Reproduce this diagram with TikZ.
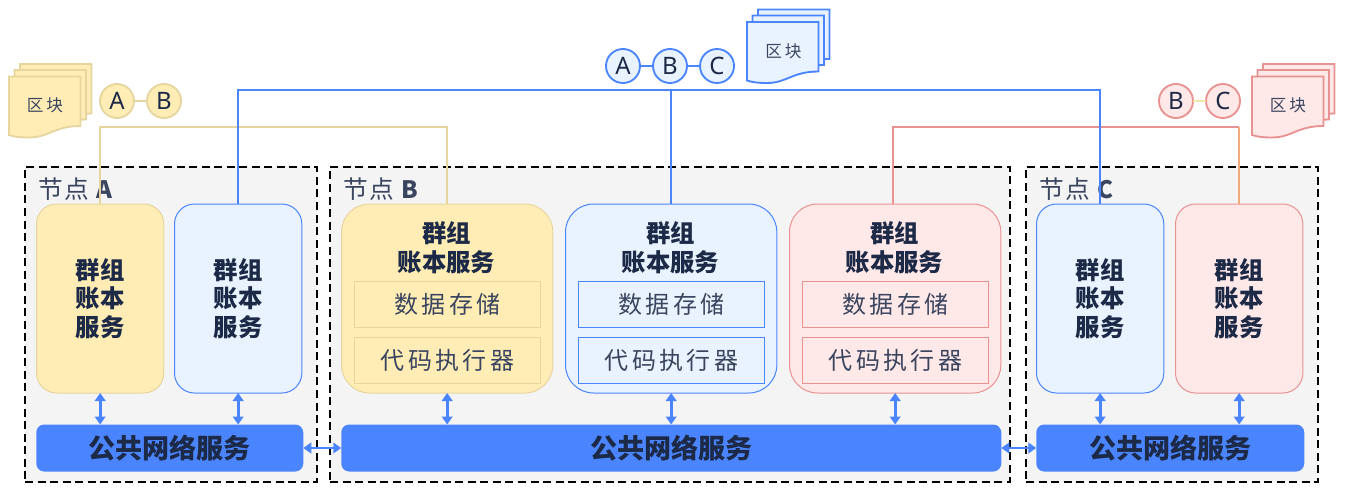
\documentclass[tikz,border=0pt]{standalone}
\usepackage{fontspec}
\setmainfont{Noto Sans}
\newfontfamily\cjk{Noto Sans CJK SC}
\usetikzlibrary{arrows.meta}
\definecolor{ink}{HTML}{1D2A47}
\definecolor{inksoft}{HTML}{3A4560}
\definecolor{bluel}{HTML}{4A85FF}
\definecolor{bluef}{HTML}{E8F3FF}
\definecolor{yell}{HTML}{E6D59E}
\definecolor{yelf}{HTML}{FFEDB5}
\definecolor{redl}{HTML}{E89292}
\definecolor{redf}{HTML}{FFE8E8}
\definecolor{oran}{HTML}{F2AB78}
\definecolor{frame}{HTML}{F4F4F4}
\tikzset{
  x=0.75pt,y=-0.75pt,
  every node/.style={inner sep=0pt,outer sep=0pt,text=ink,font=\cjk},
  framebox/.style={draw=black,fill=frame,line width=1.6pt,dash pattern=on 6pt off 3.4pt,minimum height=236.25pt,anchor=north west},
  framelabel/.style={anchor=west,font=\cjk\fontsize{18.5}{20}\selectfont,text=inksoft},
  svcbold/.style={font=\cjk\bfseries\fontsize{18.3}{21.5}\selectfont,align=center,text=ink},
  narrow/.style={minimum width=95.5pt,minimum height=141.75pt,anchor=north west,rounded corners=15pt,line width=0.75pt,svcbold},
  wide/.style={minimum width=158.5pt,minimum height=141.75pt,anchor=north west,rounded corners=21pt,line width=0.75pt},
  yelbox/.style={draw=yell,fill=yelf},
  blubox/.style={draw=bluel,fill=bluef},
  redbox/.style={draw=redl,fill=redf},
  inner/.style={minimum width=139.5pt,minimum height=34.5pt,anchor=north west,line width=0.75pt,text=inksoft,font=\cjk\fontsize{18}{21}\selectfont},
  busbox/.style={fill=bluel,minimum height=35.25pt,anchor=north west,rounded corners=6pt,font=\cjk\bfseries\fontsize{20.3}{24}\selectfont,text=ink},
  chain/.style={circle,minimum size=25.5pt,line width=1.4pt,font=\fontsize{18}{20}\selectfont,text=ink},
  link/.style={line width=1.5pt,line join=miter},
  dbl/.style={bluel,line width=2.2pt,{Triangle[length=6pt,width=8pt]}-{Triangle[length=6pt,width=8pt]}},
  doclabel/.style={font=\cjk\fontsize{12.5}{15}\selectfont,text=inksoft},
  sheet/.style={line width=1.4pt,line join=miter},
}
\newcommand{\sheetpath}[4]{%
  \path[sheet,draw=#3,fill=#4,shift={(#1,#2)}] (0,0) -- (71.5,0) -- (71.5,49.5)
    .. controls (45,49.5) and (40,61) .. (20,61)
    .. controls (12,61) and (6,60.5) .. (0,58.5) -- cycle;}
\newcommand{\docstack}[4]{%
  \sheetpath{#1+11}{#2-12.5}{#3}{#4}
  \sheetpath{#1+5.5}{#2-6.5}{#3}{#4}
  \sheetpath{#1}{#2}{#3}{#4}}
\newcommand{\gp}{\hskip1.1pt}
\newcommand{\gq}{\hskip2.5pt}
\begin{document}
\begin{tikzpicture}
\useasboundingbox (0,0) rectangle (1346,496);
% frames
\node[framebox,minimum width=219pt] (fa) at (25,167) {};
\node[framebox,minimum width=510pt] (fb) at (330,167) {};
\node[framebox,minimum width=219pt] (fc) at (1026,167) {};
\node[framelabel] (la) at (38,189.5) {节\gp 点\hskip6pt{\bfseries\fontsize{18}{20}\selectfont A}};
\node[framelabel] (lb) at (343,189.5) {节\gp 点\hskip6pt{\bfseries\fontsize{18}{20}\selectfont B}};
\node[framelabel] (lc) at (1039,189.5) {节\gp 点\hskip6pt{\bfseries\fontsize{18}{20}\selectfont C}};
% service boxes
\node[narrow,yelbox] (a1) at (36.5,204) {群组\\账本\\服务};
\node[narrow,blubox] (a2) at (174.5,204) {群组\\账本\\服务};
\node[wide,yelbox] (b1) at (341.5,204) {};
\node[wide,blubox] (b2) at (565.5,204) {};
\node[wide,redbox] (b3) at (789.5,204) {};
\node[narrow,blubox] (c1) at (1036.5,204) {群组\\账本\\服务};
\node[narrow,redbox] (c2) at (1175.5,204) {群组\\账本\\服务};
% wide titles
\node[svcbold] (t1) at (446.5,248) {群组\\账本服务};
\node[svcbold] (t2) at (670.5,248) {群组\\账本服务};
\node[svcbold] (t3) at (894.5,248) {群组\\账本服务};
% inner boxes
\node[inner,draw=yell] (s1) at (354.5,281.5) {数\gq 据\gq 存\gq 储};
\node[inner,draw=yell] (x1) at (354.5,337.5) {代\gq 码\gq 执\gq 行\gq 器};
\node[inner,draw=bluel] (s2) at (578.5,281.5) {数\gq 据\gq 存\gq 储};
\node[inner,draw=bluel] (x2) at (578.5,337.5) {代\gq 码\gq 执\gq 行\gq 器};
\node[inner,draw=redl] (s3) at (802.5,281.5) {数\gq 据\gq 存\gq 储};
\node[inner,draw=redl] (x3) at (802.5,337.5) {代\gq 码\gq 执\gq 行\gq 器};
% buses
\node[busbox,minimum width=200.25pt] (pa) at (36.25,424.5) {公共网络服务};
\node[busbox,minimum width=495pt] (pb) at (341.25,424.5) {公共网络服务};
\node[busbox,minimum width=201pt] (pc) at (1036.25,424.5) {公共网络服务};
% vertical double arrows
\foreach \n/\m in {a1/pa,a2/pa,b1/pb,b2/pb,b3/pb,c1/pc,c2/pc}
  \draw[dbl] (\n.south) -- (\n.south |- \m.north);
\draw[dbl] (pa.east) -- (pb.west);
\draw[dbl] (pb.east) -- (pc.west);
% chain lines
\draw[link,yell] (a1.north) -- (a1.north |- 0,127) -- (b1.north |- 0,127) -- (b1.north);
\draw[link,redl] ([xshift=-1.5pt]b3.north) -- ([xshift=-1.5pt]b3.north |- 0,127) -- (c2.north |- 0,127);
\draw[link,oran] (c2.north |- 0,127) -- (c2.north);
\draw[link,bluel] (a2.north) -- (a2.north |- 0,90) -- (c1.north |- 0,90) -- (c1.north);
\draw[link,bluel,line width=1.2pt] (b2.north) -- (b2.north |- 0,90);
% circles
\node[chain,draw=yell,fill=yelf] (ya) at (117,101) {A};
\node[chain,draw=yell,fill=yelf] (yb) at (164,101) {B};
\draw[link,yell] (ya) -- (yb);
\node[chain,draw=bluel,fill=bluef] (ma) at (623,66) {A};
\node[chain,draw=bluel,fill=bluef] (mb) at (670,66) {B};
\node[chain,draw=bluel,fill=bluef] (mc) at (717,66) {C};
\draw[link,bluel] (ma) -- (mb);
\draw[link,bluel] (mb) -- (mc);
\node[chain,draw=redl,fill=redf] (rb) at (1176,101) {B};
\node[chain,draw=redl,fill=redf] (rc) at (1223,101) {C};
\draw[link,yelf!60!yell] (rb) -- (rc);
% block stacks
\docstack{9}{76.5}{yell}{yelf}
\node[doclabel] (d1) at (45,105.5) {区\,块};
\docstack{747}{22}{bluel}{bluef}
\node[doclabel] (d2) at (783.5,51) {区\,块};
\docstack{1252}{76.5}{redl}{redf}
\node[doclabel] (d3) at (1288,105.5) {区\,块};
\end{tikzpicture}
\end{document}
